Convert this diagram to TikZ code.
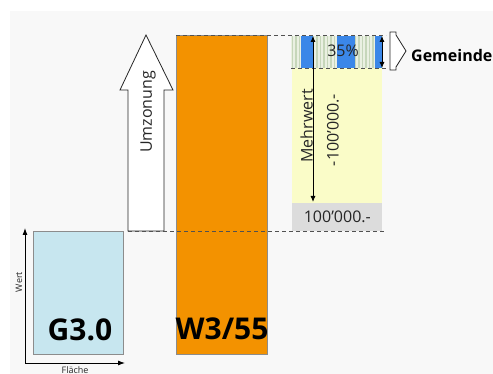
\documentclass[tikz,border=0pt]{standalone}
\usepackage{fontspec}
\setmainfont{Open Sans}
\usetikzlibrary{arrows.meta}
\definecolor{bgc}{HTML}{F8F8F8}
\definecolor{gblue}{HTML}{C7E6EF}
\definecolor{orng}{HTML}{F39200}
\definecolor{yel}{HTML}{FAFCC8}
\definecolor{lgray}{HTML}{DCDCDC}
\definecolor{stripbg}{HTML}{EAF0E2}
\definecolor{stripgr}{HTML}{C6D6BA}
\definecolor{blu}{HTML}{3B87E8}
\definecolor{edge}{HTML}{8C8C8C}
\definecolor{txt}{HTML}{262626}
\begin{document}
\begin{tikzpicture}[x=1pt,y=-1pt,
  tip/.style={-{Latex[length=7pt,width=5pt]}},
  dtip/.style={{Latex[length=6pt,width=5pt]}-{Latex[length=6pt,width=5pt]}},
  dline/.style={draw=txt!80, dash pattern=on 4pt off 3pt, line width=0.8pt},
  lbl/.style={font=\fontsize{16}{16}\selectfont, text=txt, inner sep=0pt},
  big/.style={font=\bfseries\fontsize{30}{30}\selectfont, inner sep=0pt},
  small/.style={font=\fontsize{9}{9}\selectfont, text=txt, inner sep=0pt},
  box/.style={draw=edge, line width=0.6pt, inner sep=0pt, anchor=north west}]
\useasboundingbox (0,0) rectangle (493,374);
\clip (0,0) rectangle (493,374);
\fill[bgc] (10,11) rectangle (493,374);

% G3.0 box with axes
\node[box, fill=gblue, minimum width=90pt, minimum height=123pt] (g3) at (33,231) {};
\node[big, anchor=base] (g3lbl) at (80,341) {G3.0};
\coordinate (orig) at (25,363);
\coordinate (ytop) at (25,228);
\coordinate (xend) at (125,363);
\draw[tip, line width=0.9pt] (orig) -- (ytop);
\draw[tip, line width=0.9pt] (orig) -- (xend);
\node[small, rotate=90] (wert) at (19,282) {Wert};
\node[small] (flaeche) at (75,370) {Fläche};

% Umzonung arrow
\draw[fill=white, line width=0.8pt, draw=txt] (128,231) -- (128,90) -- (120,90) -- (146,35) -- (173,90) -- (164,90) -- (164,231) -- cycle;
\node[lbl, rotate=90] (umz) at (148,112) {Umzonung};

% W3/55 box
\node[box, fill=orng, minimum width=91pt, minimum height=319pt] (w3) at (176,35) {};
\node[big, anchor=base] (w3lbl) at (222,340) {W3/55};

% yellow area and gray box
\fill[yel] (292,68) rectangle (382,203);
\node[box, draw=none, fill=lgray, minimum width=90pt, minimum height=28pt] (base) at (292,203) {};
\node[lbl] (baselbl) at (base.center) {100'000.-};

% striped strip
\fill[stripbg] (291,36) rectangle (383,68);
\foreach \x in {291.5,295,...,382} \fill[stripgr] (\x,36) rectangle ++(1.6,32);
\fill[blu] (301,36) rectangle (313,68);
\fill[blu] (337,36) rectangle (355,68);
\fill[blu] (375,36) rectangle (382,68);
\node[lbl] (pct) at (343,51) {35\%};

% dashed guides
\draw[dline] (176,35) -- (386,35);
\draw[dline] (291,68) -- (386,68);
\draw[dline] (128,231) -- (386,231);

% Mehrwert arrow
\coordinate (mtop) at (313,36);
\coordinate (mbot) at (313,202);
\draw[dtip, line width=0.9pt] (mbot) -- (mtop);
\node[lbl, rotate=90, anchor=base] (mw) at (312.5,126) {Mehrwert};
\node[lbl, rotate=90] (mwval) at (333,130) {-100'000.-};

% 35% arrow
\coordinate (ptop) at (382,36);
\coordinate (pbot) at (382,68);
\draw[dtip, line width=0.9pt] (ptop) -- (pbot);

% Gemeinde chevron
\draw[fill=white, draw=txt, line width=0.8pt] (390,32) -- (396,32) -- (396,35) -- (406,51) -- (396,67) -- (396,70) -- (390,70) -- cycle;
\node[font=\bfseries\fontsize{16}{16}\selectfont, anchor=base west, inner sep=0pt] (gem) at (411,62) {Gemeinde};
\end{tikzpicture}
\end{document}
